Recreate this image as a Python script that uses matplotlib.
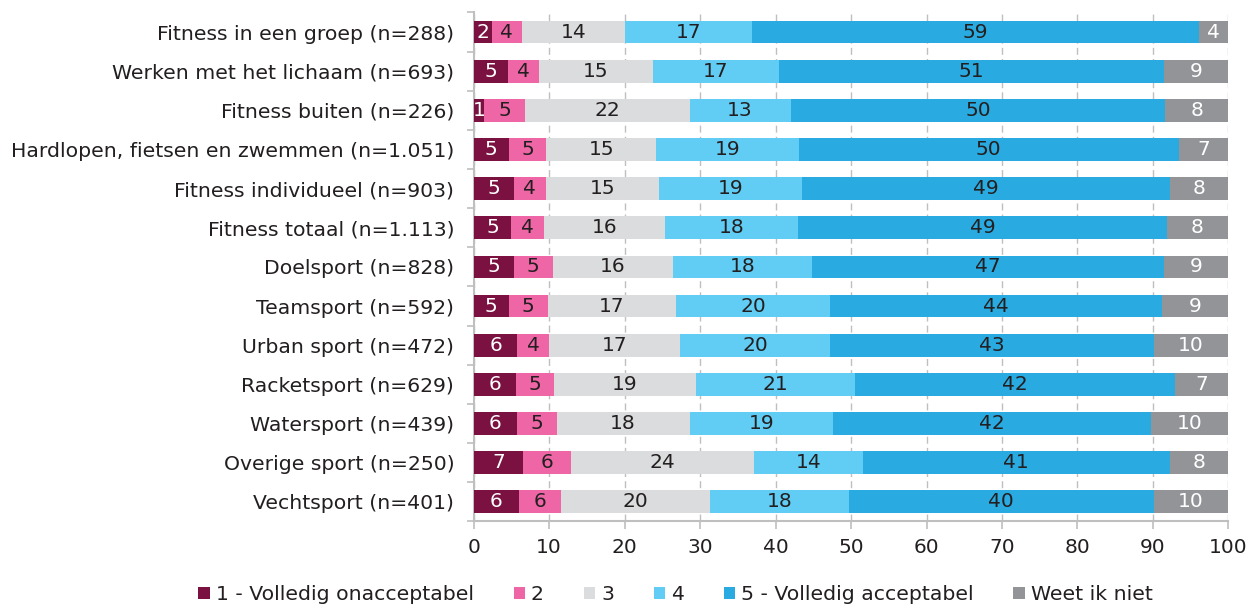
import numpy as np
import matplotlib.pyplot as plt

plt.rcParams['font.family'] = ['DejaVu Sans']

categories = [
    "Fitness in een groep (n=288)",
    "Werken met het lichaam (n=693)",
    "Fitness buiten (n=226)",
    "Hardlopen, fietsen en zwemmen (n=1.051)",
    "Fitness individueel (n=903)",
    "Fitness totaal (n=1.113)",
    "Doelsport (n=828)",
    "Teamsport (n=592)",
    "Urban sport (n=472)",
    "Racketsport (n=629)",
    "Watersport (n=439)",
    "Overige sport (n=250)",
    "Vechtsport (n=401)",
]

# percentages per answer category, one value per row
s1 = [2.4, 4.6, 1.4, 4.7, 5.3, 5.0, 5.3, 4.7, 5.8, 5.6, 5.7, 6.6, 6.0]
s2 = [4.0, 4.0, 5.4, 4.9, 4.3, 4.3, 5.2, 5.1, 4.2, 5.1, 5.3, 6.3, 5.6]
s3 = [13.6, 15.1, 21.8, 14.6, 14.9, 16.0, 15.9, 17.0, 17.4, 18.7, 17.6, 24.3, 19.7]
s4 = [16.9, 16.8, 13.4, 18.9, 19.0, 17.7, 18.4, 20.4, 19.8, 21.1, 19.0, 14.4, 18.4]
s5 = [59.2, 50.9, 49.6, 50.3, 48.7, 48.8, 46.6, 44.0, 42.9, 42.4, 42.2, 40.6, 40.4]
weet = [3.9, 8.6, 8.4, 6.6, 7.8, 8.2, 8.6, 8.8, 9.9, 7.1, 10.2, 7.8, 9.9]

series = [s1, s2, s3, s4, s5, weet]
names = ["1 - Volledig onacceptabel", "2", "3", "4", "5 - Volledig acceptabel", "Weet ik niet"]
colors = ["#7A1140", "#EF66A6", "#DBDCDD", "#61CDF4", "#29AAE1", "#929497"]
text_colors = ["white", "#231F20", "#231F20", "#231F20", "#231F20", "white"]

fig = plt.figure(figsize=(12.58, 6.08), dpi=100)
ax = fig.add_axes([0.3765, 0.1425, 0.6, 0.837])

y = np.arange(len(categories))
left = np.zeros(len(categories))
for vals, name, col, tcol in zip(series, names, colors, text_colors):
    vals = np.array(vals)
    bars = ax.barh(y, vals, left=left, height=0.58, color=col, label=name, zorder=3)
    for b, v in zip(bars, vals):
        ax.text(b.get_x() + b.get_width() / 2, b.get_y() + b.get_height() / 2,
                f"{v:.0f}", ha='center', va='center', color=tcol, fontsize=14.5, zorder=4)
    left += vals

ax.set_xlim(0, 100)
ax.set_ylim(len(categories) - 0.5, -0.5)
ax.set_xticks(np.arange(0, 101, 10))
ax.set_yticks(y)
ax.set_yticklabels(categories)
ax.set_yticks(np.arange(-0.5, len(categories)), minor=True)
ax.tick_params(axis='y', which='major', length=0, pad=14, labelsize=14.7, labelcolor="#231F20")
ax.tick_params(axis='y', which='minor', length=5, color="#BFBFBF", width=1.2)
ax.tick_params(axis='x', length=6, color="#BFBFBF", width=1.2, labelsize=14.5, labelcolor="#231F20", pad=6)

ax.grid(axis='x', color="#BFBFBF", linestyle=(0, (5, 3)), linewidth=1, zorder=0)
for s in ['top', 'right']:
    ax.spines[s].set_visible(False)
for s in ['left', 'bottom']:
    ax.spines[s].set_color("#BFBFBF")
    ax.spines[s].set_linewidth(1.5)

fig.legend(loc='lower center', bbox_to_anchor=(0.537, -0.024), ncol=6, frameon=False,
           fontsize=14.7, handlelength=0.55, handleheight=0.55, handletextpad=0.3,
           columnspacing=1.95, labelcolor="#231F20")

fig.savefig("out.png", dpi=100)
